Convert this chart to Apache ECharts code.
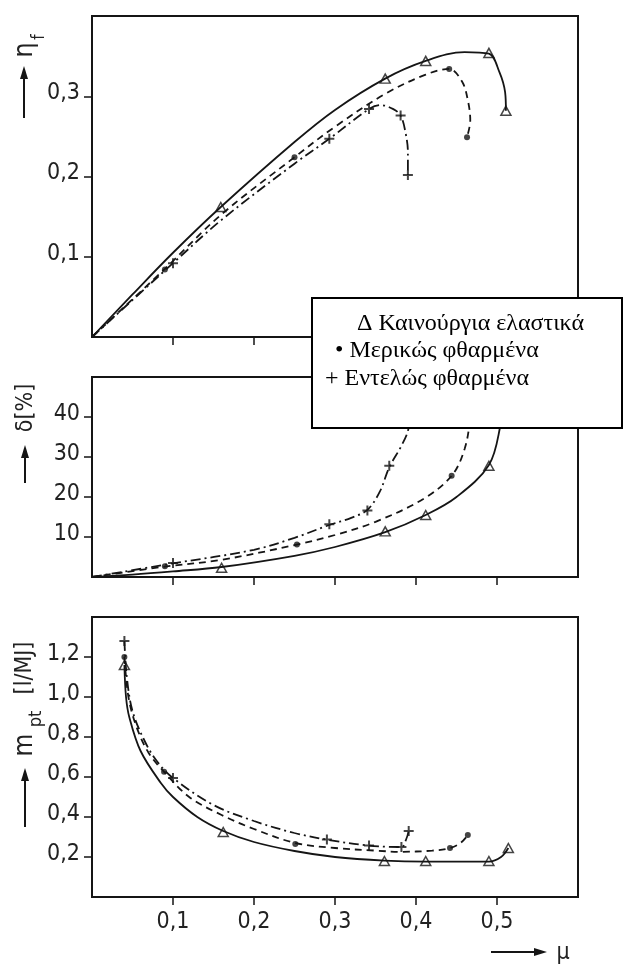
<!DOCTYPE html>
<html>
<head>
<meta charset="utf-8">
<script src="https://cdn.jsdelivr.net/npm/echarts@6/dist/echarts.min.js"></script>
<style>
html,body{margin:0;padding:0;background:#fff}
#chart{width:630px;height:964px}
</style>
</head>
<body>
<div id="chart"></div>
<script>
/*刻度*/
var muTicks=[0.1,0.2,0.3,0.4,0.5];
var etaTicks=[0.1,0.2,0.3];
var deltaTicks=[10,20,30,40];
var mTicks=[0.2,0.4,0.6,0.8,1.0,1.2];

/*η_f - μ : new / partly worn / fully worn*/
var etaNewCurve=[[0,0],[0.05,0.053],[0.1,0.105],[0.159,0.162],[0.25,0.243],[0.3,0.283],[0.362,0.322],[0.412,0.344],[0.46,0.355],[0.49,0.353],[0.503,0.33],[0.51,0.305],[0.511,0.282]];
var etaNewPts=[[0.159,0.162],[0.362,0.322],[0.412,0.344],[0.49,0.354],[0.511,0.282]];
var etaPartCurve=[[0,0],[0.09,0.085],[0.159,0.152],[0.25,0.224],[0.3,0.262],[0.362,0.303],[0.412,0.327],[0.441,0.334],[0.457,0.318],[0.464,0.295],[0.467,0.27],[0.463,0.249]];
var etaPartPts=[[0.09,0.084],[0.25,0.224],[0.441,0.334],[0.463,0.249]];
var etaWornCurve=[[0,0],[0.1,0.092],[0.16,0.146],[0.25,0.216],[0.293,0.247],[0.342,0.284],[0.356,0.289],[0.372,0.284],[0.381,0.276],[0.387,0.255],[0.39,0.23],[0.39,0.202]];
var etaWornPts=[[0.1,0.092],[0.293,0.247],[0.342,0.284],[0.381,0.276],[0.39,0.202]];

/*δ[%] - μ*/
var deltaNewCurve=[[0,0],[0.05,0.6],[0.1,1.4],[0.16,2.5],[0.25,5.3],[0.3,7.5],[0.362,11.2],[0.412,15.5],[0.45,20],[0.49,28],[0.504,37.7],[0.513,50]];
var deltaNewPts=[[0.16,2.3],[0.362,11.4],[0.412,15.5],[0.49,27.8]];
var deltaPartCurve=[[0,0],[0.09,2.6],[0.16,4.3],[0.253,8.1],[0.3,10.5],[0.35,13.8],[0.409,19.5],[0.444,25.3],[0.46,32],[0.467,40],[0.47,50]];
var deltaPartPts=[[0.09,2.7],[0.253,8.1],[0.444,25.3]];
var deltaWornCurve=[[0,0],[0.1,3.4],[0.2,6.8],[0.25,9.8],[0.293,13],[0.32,14.8],[0.34,16.8],[0.355,21.2],[0.367,27.4],[0.382,32.8],[0.39,36.5],[0.393,41],[0.394,50]];
var deltaWornPts=[[0.1,3.5],[0.293,13.2],[0.34,16.6],[0.367,27.8]];

/*m_pt[l/MJ] - μ*/
var mNewCurve=[[0.04,1.16],[0.042,1.0],[0.046,0.9],[0.06,0.73],[0.085,0.57],[0.1,0.5],[0.13,0.4],[0.162,0.33],[0.2,0.275],[0.25,0.23],[0.3,0.2],[0.361,0.182],[0.412,0.177],[0.49,0.177],[0.505,0.2],[0.514,0.245]];
var mNewPts=[[0.04,1.16],[0.162,0.325],[0.361,0.18],[0.412,0.18],[0.49,0.18],[0.514,0.245]];
var mPartCurve=[[0.04,1.2],[0.045,1.0],[0.055,0.85],[0.07,0.72],[0.089,0.626],[0.12,0.5],[0.16,0.41],[0.2,0.34],[0.251,0.27],[0.3,0.245],[0.35,0.232],[0.38,0.226],[0.42,0.232],[0.442,0.245],[0.455,0.27],[0.464,0.31]];
var mPartPts=[[0.04,1.2],[0.089,0.626],[0.251,0.265],[0.442,0.245],[0.464,0.31]];
var mWornCurve=[[0.04,1.28],[0.043,1.1],[0.05,0.93],[0.065,0.78],[0.08,0.68],[0.1,0.595],[0.15,0.46],[0.2,0.38],[0.25,0.32],[0.29,0.287],[0.342,0.257],[0.382,0.25],[0.388,0.29],[0.391,0.33]];
var mWornPts=[[0.04,1.28],[0.1,0.595],[0.29,0.287],[0.342,0.257],[0.382,0.25],[0.391,0.33]];

var ink='#151515';
var numFont='DejaVu Sans Condensed';
var plusPath='path://M4,0L6,0L6,4L10,4L10,6L6,6L6,10L4,10L4,6L0,6L0,4L4,4Z';

function comma(v){return v.toFixed(1).replace('.',',');}

function mkX(idx,labels){
	return {
		type:'value',gridIndex:idx,min:0,max:0.6,
		axisLine:{show:false},splitLine:{show:false},
		axisTick:{show:true,inside:false,length:8,customValues:muTicks,lineStyle:{color:ink,width:1.5}},
		axisLabel:{show:labels,customValues:muTicks,formatter:comma,margin:14,color:'#222',fontFamily:numFont,fontSize:23}
	};
}
function mkY(idx,min,max,ticks,fmt){
	return {
		type:'value',gridIndex:idx,min:min,max:max,
		axisLine:{show:false},splitLine:{show:false},
		axisTick:{show:true,inside:false,length:8,customValues:ticks,lineStyle:{color:ink,width:1.5}},
		axisLabel:{customValues:ticks,formatter:fmt,margin:12,verticalAlign:'bottom',lineHeight:6,color:'#222',fontFamily:numFont,fontSize:23}
	};
}
function curve(idx,data,dash){
	return {type:'line',xAxisIndex:idx,yAxisIndex:idx,data:data,smooth:0.35,symbol:'none',
		lineStyle:{color:ink,width:1.8,type:dash},z:2};
}
function marks(idx,data,kind){
	var s={type:'scatter',xAxisIndex:idx,yAxisIndex:idx,data:data,z:3};
	if(kind==='tri'){
		s.symbol='triangle';s.symbolSize=[10,9];
		s.itemStyle={color:'rgba(255,255,255,0)',borderColor:ink,borderWidth:1.5};
	}else if(kind==='dot'){
		s.symbol='circle';s.symbolSize=6;s.itemStyle={color:ink};
	}else{
		s.symbol=plusPath;s.symbolSize=10;s.itemStyle={color:ink};
	}
	return s;
}
function arrowUp(x,y1,y2){
	return [
		{type:'line',shape:{x1:x,y1:y1,x2:x,y2:y2+10},style:{stroke:ink,lineWidth:2}},
		{type:'polygon',shape:{points:[[x,y2],[x-4,y2+13],[x+4,y2+13]]},style:{fill:ink}}
	];
}
function rotText(x,y,t,size){
	return {type:'text',x:x,y:y,rotation:Math.PI/2,
		style:{text:t,fill:'#222',font:'normal '+size+'px "'+numFont+'"',align:'center',verticalAlign:'middle'}};
}

var dashDot=[10,4,2,4];
var dashed=[7,5];

var chart=echarts.init(document.getElementById('chart'));
var option={
	animation:false,
	backgroundColor:'#fff',
	grid:[
		{left:92,right:52,top:16,height:321,show:true,borderColor:ink,borderWidth:2},
		{left:92,right:52,top:377,height:200,show:true,borderColor:ink,borderWidth:2},
		{left:92,right:52,top:617,height:280,show:true,borderColor:ink,borderWidth:2}
	],
	xAxis:[mkX(0,false),mkX(1,false),mkX(2,true)],
	yAxis:[
		mkY(0,0,0.4,etaTicks,comma),
		mkY(1,0,50,deltaTicks,function(v){return String(v);}),
		mkY(2,0,1.4,mTicks,comma)
	],
	series:[
		curve(0,etaNewCurve,'solid'),curve(0,etaPartCurve,dashed),curve(0,etaWornCurve,dashDot),
		marks(0,etaNewPts,'tri'),marks(0,etaPartPts,'dot'),marks(0,etaWornPts,'plus'),
		curve(1,deltaNewCurve,'solid'),curve(1,deltaPartCurve,dashed),curve(1,deltaWornCurve,dashDot),
		marks(1,deltaNewPts,'tri'),marks(1,deltaPartPts,'dot'),marks(1,deltaWornPts,'plus'),
		curve(2,mNewCurve,'solid'),curve(2,mPartCurve,dashed),curve(2,mWornCurve,dashDot),
		marks(2,mNewPts,'tri'),marks(2,mPartPts,'dot'),marks(2,mWornPts,'plus')
	],
	graphic:[]
};

/*axis names + arrows*/
var g=[];
g.push(rotText(25,50,'η',27));
g.push(rotText(40,37,'f',17));
g=g.concat(arrowUp(24,118,66));
g.push(rotText(26,408,'δ[%]',23));
g=g.concat(arrowUp(25,483,445));
g.push(rotText(25,745,'m',26));
g.push(rotText(36,719,'pt',18));
g.push(rotText(25,668,'[l/MJ]',23));
g=g.concat(arrowUp(25,827,768));
g.push({type:'line',shape:{x1:491,y1:952,x2:537,y2:952},style:{stroke:ink,lineWidth:2}});
g.push({type:'polygon',shape:{points:[[547,952],[534,948],[534,956]]},style:{fill:ink}});
g.push({type:'text',x:563,y:953,style:{text:'μ',fill:'#222',font:'normal 23px "'+numFont+'"',align:'center',verticalAlign:'middle'}});

/*legend box (drawn above the curves)*/
var serif='normal 24px "Liberation Serif"';
g.push({type:'rect',z:100,zlevel:1,shape:{x:312,y:298,width:310,height:130},style:{fill:'#fff',stroke:'#000',lineWidth:2}});
g.push({type:'text',z:101,zlevel:1,x:357,y:324,style:{text:'Δ Καινούργια ελαστικά',fill:'#000',font:serif,verticalAlign:'middle'}});
g.push({type:'text',z:101,zlevel:1,x:335,y:351,style:{text:'• Μερικώς φθαρμένα',fill:'#000',font:serif,verticalAlign:'middle'}});
g.push({type:'text',z:101,zlevel:1,x:325,y:379,style:{text:'+ Εντελώς φθαρμένα',fill:'#000',font:serif,verticalAlign:'middle'}});
option.graphic=g;

chart.setOption(option);
</script>
</body>
</html>
